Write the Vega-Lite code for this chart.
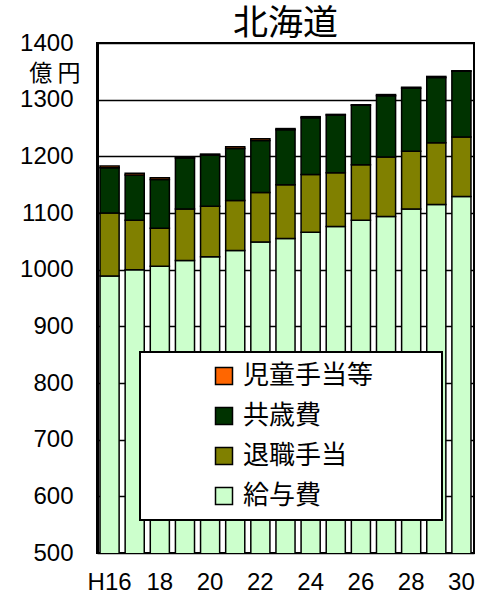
{
  "$schema": "https://vega.github.io/schema/vega-lite/v6.json",
  "width": 377,
  "height": 510,
  "autosize": "none",
  "padding": {"left": 97, "top": 43, "right": 5, "bottom": 46},
  "background": "white",
  "title": {"text": "北海道", "fontSize": 35, "font": "Noto Sans CJK JP", "fontWeight": "normal", "anchor": "middle", "offset": 1, "dy": 12, "color": "black"},
  "config": {"view": {"stroke": "black", "strokeWidth": 2}},
  "data": {"values": [
    {"year": "H16", "item": "給与費", "ord": 1, "value": 989},
    {"year": "H16", "item": "退職手当", "ord": 2, "value": 111},
    {"year": "H16", "item": "共歳費", "ord": 3, "value": 80},
    {"year": "H16", "item": "児童手当等", "ord": 4, "value": 3},
    {"year": "17", "item": "給与費", "ord": 1, "value": 1000},
    {"year": "17", "item": "退職手当", "ord": 2, "value": 87},
    {"year": "17", "item": "共歳費", "ord": 3, "value": 80},
    {"year": "17", "item": "児童手当等", "ord": 4, "value": 3},
    {"year": "18", "item": "給与費", "ord": 1, "value": 1006},
    {"year": "18", "item": "退職手当", "ord": 2, "value": 67},
    {"year": "18", "item": "共歳費", "ord": 3, "value": 86},
    {"year": "18", "item": "児童手当等", "ord": 4, "value": 3},
    {"year": "19", "item": "給与費", "ord": 1, "value": 1016},
    {"year": "19", "item": "退職手当", "ord": 2, "value": 91},
    {"year": "19", "item": "共歳費", "ord": 3, "value": 90},
    {"year": "19", "item": "児童手当等", "ord": 4, "value": 2},
    {"year": "20", "item": "給与費", "ord": 1, "value": 1023},
    {"year": "20", "item": "退職手当", "ord": 2, "value": 89},
    {"year": "20", "item": "共歳費", "ord": 3, "value": 90},
    {"year": "20", "item": "児童手当等", "ord": 4, "value": 2},
    {"year": "21", "item": "給与費", "ord": 1, "value": 1034},
    {"year": "21", "item": "退職手当", "ord": 2, "value": 88},
    {"year": "21", "item": "共歳費", "ord": 3, "value": 92},
    {"year": "21", "item": "児童手当等", "ord": 4, "value": 3},
    {"year": "22", "item": "給与費", "ord": 1, "value": 1049},
    {"year": "22", "item": "退職手当", "ord": 2, "value": 87},
    {"year": "22", "item": "共歳費", "ord": 3, "value": 92},
    {"year": "22", "item": "児童手当等", "ord": 4, "value": 3},
    {"year": "23", "item": "給与費", "ord": 1, "value": 1055},
    {"year": "23", "item": "退職手当", "ord": 2, "value": 95},
    {"year": "23", "item": "共歳費", "ord": 3, "value": 97},
    {"year": "23", "item": "児童手当等", "ord": 4, "value": 2},
    {"year": "24", "item": "給与費", "ord": 1, "value": 1066},
    {"year": "24", "item": "退職手当", "ord": 2, "value": 102},
    {"year": "24", "item": "共歳費", "ord": 3, "value": 100},
    {"year": "24", "item": "児童手当等", "ord": 4, "value": 2},
    {"year": "25", "item": "給与費", "ord": 1, "value": 1076},
    {"year": "25", "item": "退職手当", "ord": 2, "value": 95},
    {"year": "25", "item": "共歳費", "ord": 3, "value": 102},
    {"year": "25", "item": "児童手当等", "ord": 4, "value": 1},
    {"year": "26", "item": "給与費", "ord": 1, "value": 1087},
    {"year": "26", "item": "退職手当", "ord": 2, "value": 98},
    {"year": "26", "item": "共歳費", "ord": 3, "value": 105},
    {"year": "26", "item": "児童手当等", "ord": 4, "value": 1},
    {"year": "27", "item": "給与費", "ord": 1, "value": 1094},
    {"year": "27", "item": "退職手当", "ord": 2, "value": 105},
    {"year": "27", "item": "共歳費", "ord": 3, "value": 108},
    {"year": "27", "item": "児童手当等", "ord": 4, "value": 2},
    {"year": "28", "item": "給与費", "ord": 1, "value": 1107},
    {"year": "28", "item": "退職手当", "ord": 2, "value": 102},
    {"year": "28", "item": "共歳費", "ord": 3, "value": 111},
    {"year": "28", "item": "児童手当等", "ord": 4, "value": 2},
    {"year": "29", "item": "給与費", "ord": 1, "value": 1115},
    {"year": "29", "item": "退職手当", "ord": 2, "value": 109},
    {"year": "29", "item": "共歳費", "ord": 3, "value": 115},
    {"year": "29", "item": "児童手当等", "ord": 4, "value": 2},
    {"year": "30", "item": "給与費", "ord": 1, "value": 1129},
    {"year": "30", "item": "退職手当", "ord": 2, "value": 105},
    {"year": "30", "item": "共歳費", "ord": 3, "value": 116},
    {"year": "30", "item": "児童手当等", "ord": 4, "value": 1}
  ]},
  "mark": {"type": "bar", "stroke": "black", "strokeWidth": 1.5, "clip": true},
  "encoding": {
    "x": {
      "field": "year", "type": "nominal", "sort": null,
      "scale": {"paddingInner": 0.24, "paddingOuter": 0.12},
      "axis": {
        "title": null, "labelAngle": 0, "ticks": false, "domain": false, "labelOverlap": false,
        "labelFont": "Liberation Sans", "labelFontSize": 24, "labelColor": "black", "labelPadding": 17,
        "labelExpr": "indexof(['H16','18','20','22','24','26','28','30'], datum.value) >= 0 ? datum.value : ''"
      }
    },
    "y": {
      "field": "value", "type": "quantitative", "stack": "zero",
      "scale": {"domain": [500, 1400], "nice": false, "zero": false},
      "axis": {
        "values": [500, 600, 700, 800, 900, 1000, 1100, 1200, 1300, 1400], "format": "d",
        "grid": true, "gridColor": "black", "gridWidth": 1.5, "gridOpacity": 1,
        "domain": true, "domainColor": "black", "domainWidth": 3,
        "ticks": false, "labelFont": "Liberation Sans", "labelFontSize": 24, "labelColor": "black", "labelPadding": 24,
        "title": "億 円", "titleAngle": 0, "titleFont": "Noto Sans CJK JP", "titleFontSize": 23, "titleFontWeight": "normal",
        "titleColor": "black", "titleX": -17, "titleY": 30, "titleAlign": "right", "titleBaseline": "middle"
      }
    },
    "color": {
      "field": "item", "type": "nominal",
      "scale": {"domain": ["児童手当等", "共歳費", "退職手当", "給与費"], "range": ["#FF6600", "#003300", "#808000", "#CCFFCC"]},
      "legend": {
        "title": null, "orient": "none", "legendX": 43, "legendY": 309,
        "fillColor": "white", "strokeColor": "black", "padding": 11,
        "symbolType": "square", "symbolSize": 289, "symbolStrokeColor": "black", "symbolStrokeWidth": 1.5, "symbolOpacity": 1,
        "symbolOffset": 60,
        "labelFont": "Noto Sans CJK JP", "labelFontSize": 26, "labelColor": "black", "labelOffset": 6, "rowPadding": 14,
        "labelLimit": 600,
        "labelExpr": "datum.label + '\u2800\u2800\u2800'",
        "encode": {"legend": {"update": {"strokeWidth": {"value": 2}}}}
      }
    },
    "order": {"field": "ord", "type": "quantitative"}
  }
}
